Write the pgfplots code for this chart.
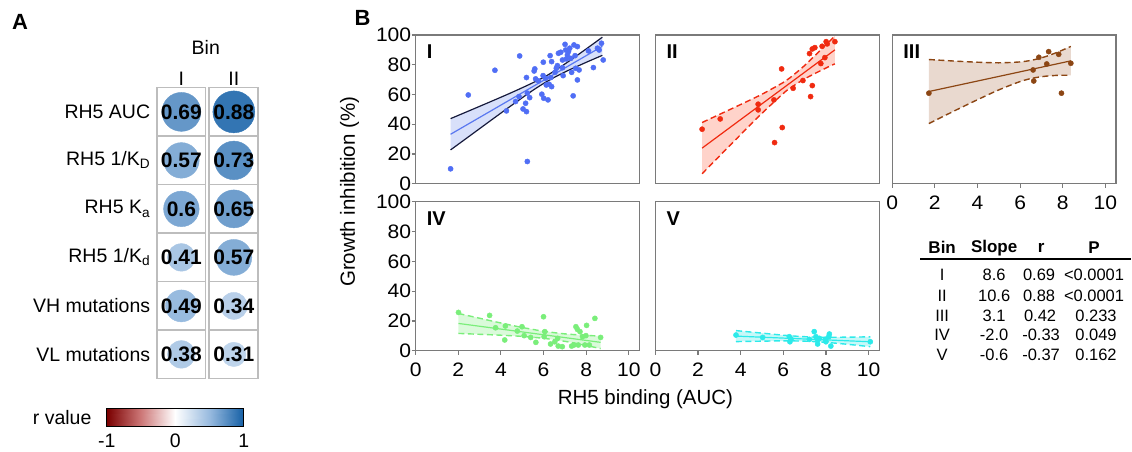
\documentclass[border=0pt]{standalone}
\usepackage{fontspec}
\setmainfont{Liberation Sans}
\newfontfamily\tickfont[FakeStretch=1.08]{Liberation Sans}
\usepackage{pgfplots}
\pgfplotsset{compat=1.18}
\usepackage{pgfplotstable}
\usepgfplotslibrary{fillbetween}

\newcommand{\fsz}[1]{\fontsize{#1}{#1}\selectfont}

\definecolor{frame}{HTML}{7A7A7A}
\definecolor{cellgray}{HTML}{BDBDBD}
\definecolor{ptI}{HTML}{506EF5}
\definecolor{lnI}{HTML}{5A78F0}
\definecolor{fillI}{HTML}{D8E0FA}
\definecolor{ciI}{HTML}{161A3C}
\definecolor{ptII}{HTML}{F02A10}
\definecolor{fillII}{HTML}{FFD3CA}
\definecolor{ptIII}{HTML}{8C4614}
\definecolor{fillIII}{HTML}{E9D9CF}
\definecolor{ptIV}{HTML}{7AEE7A}
\definecolor{fillIV}{HTML}{DAFADA}
\definecolor{ptV}{HTML}{2CEAEA}
\definecolor{fillV}{HTML}{C6F8F8}

\pgfplotsset{
  /pgf/number format/assume math mode=true,
  colormap={rdbu}{rgb255(0)=(122,0,0) rgb255(1)=(205,120,120) rgb255(2)=(255,255,255)
    rgb255(3)=(150,185,222) rgb255(4)=(20,95,165)},
  binpanel/.style={
    anchor=south west, scale only axis, width=224pt, height=149pt,
    xmin=0, xmax=10.5, ymin=0, ymax=100,
    axis line style={draw=frame, line width=1.2},
    tick align=outside, major tick length=4pt,
    tick style={draw=frame, line width=1.2},
    xtick={0,2,...,10}, ytick={0,20,...,100},
    xtick pos=left, ytick pos=left,
    tick label style={font=\tickfont\fsz{19.5}},
    xticklabel style={yshift=-5pt},
    yticklabel style={xshift=3pt},
  },
  ci/.style={line width=1.4, dash pattern=on 6pt off 3.5pt, smooth},
}

% panel A: correlation r per bin, circle radius in pt
\pgfplotstableread{
x y r rad
0.98 1 0.69 19.5
2.02 1 0.88 21.0
0.98 2 0.57 17.8
2.02 2 0.73 19.3
0.98 3 0.6 17.8
2.02 3 0.65 19.0
0.98 4 0.41 13.8
2.02 4 0.57 18.0
0.98 5 0.49 16.0
2.02 5 0.34 13.5
0.98 6 0.38 13.8
2.02 6 0.31 12.2
}\corrA

% bin I
\pgfplotstableread{
x y
1.64 10.1
2.47 59.7
3.72 76.3
4.88 85.9
4.26 49.0
4.69 55.3
4.85 58.6
5.04 50.3
5.20 48.5
5.16 54.1
5.24 15.0
5.24 60.9
5.35 57.9
5.20 71.4
5.56 75.8
5.59 77.2
5.63 70.5
5.76 69.1
5.92 60.2
6.01 57.5
6.21 56.4
5.99 81.7
5.98 72.7
6.10 70.9
6.31 86.1
6.38 82.1
6.34 71.4
6.38 65.3
6.13 66.4
6.26 66.9
6.54 74.9
6.60 77.6
6.65 79.4
6.70 87.7
6.81 88.4
6.89 78.0
6.92 72.7
7.01 93.7
7.04 89.9
7.07 83.9
7.12 86.6
7.17 88.8
7.23 91.1
7.28 84.3
7.32 74.9
7.39 59.1
7.43 93.3
7.48 86.1
7.51 77.6
7.59 92.2
7.59 69.8
7.67 76.5
8.11 89.3
8.34 78.1
8.53 91.1
8.61 89.9
8.72 94.4
8.80 83.2
6.89 83.2
}\ptsI
\pgfplotstableread{
x lo hi
1.64 22.8 43.8
2.5 31.8 49.0
3.5 42.3 55.1
4.5 52.7 61.3
5.5 62.8 67.9
6.2 69.1 73.1
7.0 75.1 80.5
8.0 81.6 90.6
8.76 86.3 98.5
}\bandI

% bin II
\pgfplotstableread{
x y
2.19 36.7
3.04 43.6
4.82 53.5
4.82 49.7
5.56 56.4
5.59 27.7
5.92 77.2
5.95 37.8
6.46 64.2
6.92 69.4
7.28 58.6
7.36 66.0
7.23 87.5
7.36 90.6
7.48 91.5
7.76 80.8
7.82 92.4
7.95 84.8
8.01 95.5
8.06 94.0
8.42 95.5
}\ptsII
\pgfplotstableread{
x lo hi
2.19 6.8 41.2
3 18.6 46.6
4 33.1 53.3
5 47.4 60.2
6 60.7 68.1
6.3 64.1 71.1
7 70.5 79.5
8 77.8 93.4
8.42 80.6 99.4
}\bandII

% bin III
\pgfplotstableread{
x y
1.72 60.9
6.61 76.5
6.64 69.1
6.88 85.0
7.25 80.5
7.34 88.8
7.81 87.0
7.94 60.9
8.38 81.0
}\ptsIII
\pgfplotstableread{
x lo hi
1.72 40.5 83.5
3 49.6 82.4
4 56.5 81.7
5 63.1 81.3
6 68.7 81.9
6.6 71.0 83.2
7.2 72.3 85.5
7.8 72.9 88.7
8.38 72.9 92.3
}\bandIII

% bin IV
\pgfplotstableread{
x y
2.01 25.7
3.47 23.7
3.75 15.4
4.21 16.6
4.18 7.2
4.77 13.2
4.99 16.1
5.09 10.1
5.40 8.9
5.64 5.6
6.00 22.8
6.06 12.8
6.03 9.4
6.33 4.5
6.53 6.0
6.66 8.3
6.69 3.1
6.88 2.7
7.32 3.1
7.43 3.8
7.52 16.1
7.59 14.3
7.63 3.8
7.71 12.8
7.83 9.4
7.99 10.1
8.02 17.0
7.94 3.8
8.15 3.8
8.41 21.7
8.68 8.9
}\ptsIV
\pgfplotstableread{
x lo hi
2.01 11.6 25.0
3 11.0 21.8
4 10.4 18.6
5 9.6 15.6
6 8.3 13.1
7 6.3 11.3
8 3.5 10.3
8.68 1.4 9.8
}\bandIV

% bin V
\pgfplotstableread{
x y
3.78 10.5
5.03 8.9
6.28 9.4
6.36 7.8
6.31 6.0
7.22 7.6
7.45 12.8
7.53 9.4
7.61 7.2
7.61 4.5
7.69 8.3
7.97 7.6
8.13 9.4
8.16 11.2
8.23 3.1
8.00 6.0
10.08 6.0
}\ptsV
\pgfplotstableread{
x lo hi
3.78 6.1 13.5
5 6.4 11.8
6 6.6 10.4
7 6.4 9.4
8 5.6 9.0
9 4.3 9.1
10.08 2.7 9.3
}\bandV

\begin{document}
\begin{tikzpicture}[x=1pt,y=1pt]
\path (0,0) rectangle (1132,452);

% ---------- panel A ----------
\node[font=\fsz{22}\bfseries, anchor=center] at (20,430) {A};
\node[font=\fsz{19.5}] at (206,405) {Bin};
\foreach \i in {0,...,5} {
  \draw[cellgray, line width=1.4] (157.3,{364.3-48.55*\i}) rectangle (205.7,{364.3-48.55*(\i+1)});
  \draw[cellgray, line width=1.4] (209.3,{364.3-48.55*\i}) rectangle (258.3,{364.3-48.55*(\i+1)});
}
\begin{axis}[
  at={(157.3pt,73pt)}, anchor=south west, scale only axis,
  width=101pt, height=291.3pt,
  xmin=0.5, xmax=2.5, ymin=0.5, ymax=6.5, y dir=reverse,
  axis line style={draw=none}, major tick length=0pt,
  xtick={0.98,2.02}, xticklabels={I,II}, xticklabel pos=upper,
  xticklabel style={font=\fsz{19.5}, yshift=-1pt},
  ytick={1,...,6},
  yticklabels={RH5 AUC, RH5 1/K\textsubscript{D}, RH5 K\textsubscript{a},
    RH5 1/K\textsubscript{d}, VH mutations, VL mutations},
  yticklabel style={font=\fsz{19.5}, xshift=-3.5pt},
  colormap name=rdbu,
  point meta min=-1, point meta max=1,
  clip=false,
]
% circles: colour and size from r
\addplot[
  scatter, only marks, mark=*,
  point meta=\thisrow{r},
  scatter/use mapped color={draw=mapped color, fill=mapped color},
  visualization depends on={\thisrow{rad} \as \circr},
  scatter/@pre marker code/.append style={/tikz/mark size=\circr},
] table[x=x, y=y] {\corrA};
% r values written on top
\addplot[
  draw=none, mark=none,
  point meta=\thisrow{r},
  nodes near coords,
  every node near coord/.append style={anchor=center, text=black,
    font=\fsz{21}\bfseries, inner sep=0pt},
] table[x=x, y=y] {\corrA};
\end{axis}

% colour key
\begin{axis}[
  at={(107pt,25pt)}, anchor=south west, scale only axis,
  width=137pt, height=18pt,
  xmin=-1, xmax=1, ymin=0, ymax=1,
  xtick={-1,0,1}, ytick=\empty, major tick length=0pt,
  xticklabel style={font=\fsz{19.5}, yshift=-4pt},
  axis line style={draw=black, line width=1},
  colormap name=rdbu, point meta min=-1, point meta max=1,
  axis on top,
]
\addplot[surf, shader=interp, mesh/cols=5, point meta=x] coordinates {
  (-1,0) (-0.5,0) (0,0) (0.5,0) (1,0)
  (-1,1) (-0.5,1) (0,1) (0.5,1) (1,1)
};
\end{axis}
\node[font=\fsz{19.5}, anchor=east] at (95,34) {r value};

% ---------- panel B ----------
\node[font=\fsz{22}\bfseries, anchor=center] at (363,434) {B};

\begin{axis}[binpanel, at={(416pt,268pt)}, xmajorticks=false]
\addplot[draw=none, name path=loI, smooth, forget plot] table[x=x,y=lo]{\bandI};
\addplot[draw=none, name path=hiI, smooth, forget plot] table[x=x,y=hi]{\bandI};
\addplot[fill=fillI, draw=none] fill between[of=loI and hiI];
\addplot[ciI, line width=1.2, smooth] table[x=x,y=lo]{\bandI};
\addplot[ciI, line width=1.2, smooth] table[x=x,y=hi]{\bandI};
\addplot[lnI, line width=1.2] coordinates {(1.64,33.3) (8.76,92.4)};
\addplot[only marks, mark=*, mark size=2.6pt, ptI] table[x=x,y=y]{\ptsI};
\node[font=\fsz{20}\bfseries, anchor=north west, inner sep=0pt] at ([xshift=11pt,yshift=-10pt]rel axis cs:0,1) {I};
\end{axis}

\begin{axis}[binpanel, at={(656pt,268pt)}, xmajorticks=false, ymajorticks=false]
\addplot[draw=none, name path=loII, smooth, forget plot] table[x=x,y=lo]{\bandII};
\addplot[draw=none, name path=hiII, smooth, forget plot] table[x=x,y=hi]{\bandII};
\addplot[fill=fillII, draw=none] fill between[of=loII and hiII];
\addplot[ptII, ci] table[x=x,y=lo]{\bandII};
\addplot[ptII, ci] table[x=x,y=hi]{\bandII};
\addplot[ptII, line width=1.2] coordinates {(2.19,24.0) (8.42,90.0)};
\addplot[only marks, mark=*, mark size=2.6pt, ptII] table[x=x,y=y]{\ptsII};
\node[font=\fsz{20}\bfseries, anchor=north west, inner sep=0pt] at ([xshift=11pt,yshift=-10pt]rel axis cs:0,1) {II};
\end{axis}

\begin{axis}[binpanel, at={(893pt,268pt)}, ymajorticks=false]
\addplot[draw=none, name path=loIII, smooth, forget plot] table[x=x,y=lo]{\bandIII};
\addplot[draw=none, name path=hiIII, smooth, forget plot] table[x=x,y=hi]{\bandIII};
\addplot[fill=fillIII, draw=none] fill between[of=loIII and hiIII];
\addplot[ptIII, ci] table[x=x,y=lo]{\bandIII};
\addplot[ptIII, ci] table[x=x,y=hi]{\bandIII};
\addplot[ptIII, line width=1.2] coordinates {(1.72,62.0) (8.38,82.6)};
\addplot[only marks, mark=*, mark size=2.6pt, ptIII] table[x=x,y=y]{\ptsIII};
\node[font=\fsz{20}\bfseries, anchor=north west, inner sep=0pt] at ([xshift=11pt,yshift=-10pt]rel axis cs:0,1) {III};
\end{axis}

\begin{axis}[binpanel, at={(416pt,101pt)}]
\addplot[draw=none, name path=loIV, smooth, forget plot] table[x=x,y=lo]{\bandIV};
\addplot[draw=none, name path=hiIV, smooth, forget plot] table[x=x,y=hi]{\bandIV};
\addplot[fill=fillIV, draw=none] fill between[of=loIV and hiIV];
\addplot[ptIV, ci] table[x=x,y=lo]{\bandIV};
\addplot[ptIV, ci] table[x=x,y=hi]{\bandIV};
\addplot[ptIV, line width=1.2] coordinates {(2.01,18.3) (8.68,5.6)};
\addplot[only marks, mark=*, mark size=2.6pt, ptIV] table[x=x,y=y]{\ptsIV};
\node[font=\fsz{20}\bfseries, anchor=north west, inner sep=0pt] at ([xshift=11pt,yshift=-10pt]rel axis cs:0,1) {IV};
\end{axis}

\begin{axis}[binpanel, at={(656pt,101pt)}, ymajorticks=false]
\addplot[draw=none, name path=loV, smooth, forget plot] table[x=x,y=lo]{\bandV};
\addplot[draw=none, name path=hiV, smooth, forget plot] table[x=x,y=hi]{\bandV};
\addplot[fill=fillV, draw=none] fill between[of=loV and hiV];
\addplot[ptV, ci] table[x=x,y=lo]{\bandV};
\addplot[ptV, ci] table[x=x,y=hi]{\bandV};
\addplot[ptV, line width=1.2] coordinates {(3.78,9.8) (10.08,6.0)};
\addplot[only marks, mark=*, mark size=2.6pt, ptV] table[x=x,y=y]{\ptsV};
\node[font=\fsz{20}\bfseries, anchor=north west, inner sep=0pt] at ([xshift=11pt,yshift=-10pt]rel axis cs:0,1) {V};
\end{axis}

\node[font=\fsz{20.5}, rotate=90] at (350,260) {Growth inhibition (\%)};
\node[font=\fsz{20.5}] at (646,52) {RH5 binding (AUC)};

% ---------- table ----------
\begin{scope}[every node/.style={font=\fsz{16.5}, anchor=center, inner sep=0pt}]
\node[font=\fsz{17}\bfseries] at (943,204) {Bin};
\node[font=\fsz{17}\bfseries] at (995,204) {Slope};
\node[font=\fsz{17}\bfseries] at (1042,204) {r};
\node[font=\fsz{17}\bfseries] at (1095,204) {P};
\draw[black, line width=2] (921,193) -- (1132,193);
\node at (943,177) {I};   \node at (995,177) {8.6};  \node at (1040,177) {0.69};  \node at (1095,177) {<0.0001};
\node at (943,156) {II};  \node at (995,156) {10.6}; \node at (1040,156) {0.88};  \node at (1095,156) {<0.0001};
\node at (943,136) {III}; \node at (995,136) {3.1};  \node at (1041,136) {0.42};  \node at (1097,136) {0.233};
\node at (943,117) {IV};  \node at (995,117) {-2.0}; \node at (1042,117) {-0.33}; \node at (1097,117) {0.049};
\node at (943,97)  {V};   \node at (995,97)  {-0.6}; \node at (1042,97)  {-0.37}; \node at (1097,97)  {0.162};
\end{scope}
\end{tikzpicture}
\end{document}
